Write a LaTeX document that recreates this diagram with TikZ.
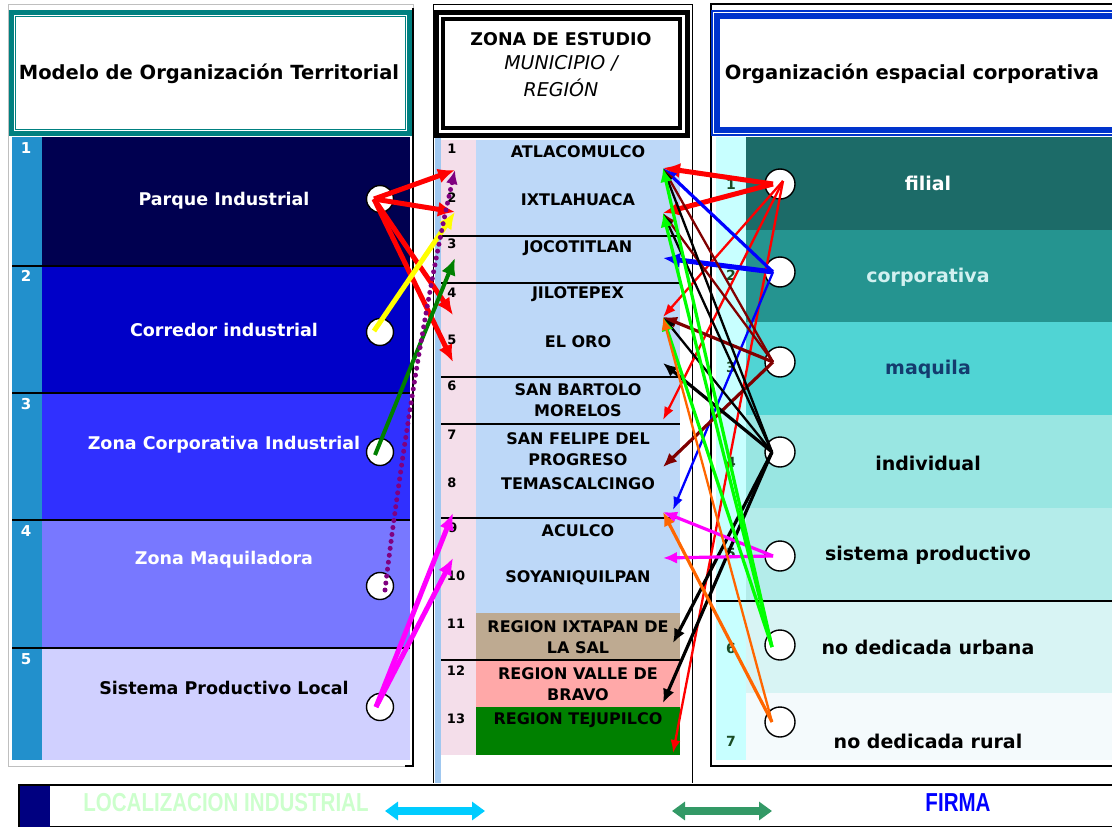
\documentclass[tikz,border=0pt]{standalone}
\usepackage{fontspec}
\setmainfont{DejaVu Sans}
\newfontfamily\narrowfont[FakeStretch=0.79]{Liberation Sans}
\usetikzlibrary{arrows.meta}

\definecolor{headteal}{RGB}{0,128,128}
\definecolor{headblue}{RGB}{0,51,204}
\definecolor{numstrip}{RGB}{34,144,204}
\definecolor{modA}{RGB}{0,0,80}
\definecolor{modB}{RGB}{0,0,200}
\definecolor{modC}{RGB}{48,48,255}
\definecolor{modD}{RGB}{120,120,255}
\definecolor{modE}{RGB}{208,208,255}
\definecolor{munpink}{RGB}{244,222,234}
\definecolor{munblue}{RGB}{189,216,248}
\definecolor{regtan}{RGB}{190,170,145}
\definecolor{regrose}{RGB}{255,168,168}
\definecolor{reggreen}{RGB}{0,128,0}
\definecolor{sidestrip}{RGB}{160,200,240}
\definecolor{orgstrip}{RGB}{200,255,255}
\definecolor{orgA}{RGB}{28,107,104}
\definecolor{orgB}{RGB}{37,148,144}
\definecolor{orgC}{RGB}{80,212,212}
\definecolor{orgD}{RGB}{153,230,226}
\definecolor{orgE}{RGB}{180,236,234}
\definecolor{orgF}{RGB}{216,244,244}
\definecolor{orgG}{RGB}{244,250,252}
\definecolor{orgnum}{RGB}{25,75,35}
\definecolor{corptext}{RGB}{210,240,240}
\definecolor{maqtext}{RGB}{20,60,110}
\definecolor{locgreen}{RGB}{204,255,204}
\definecolor{firmgreen}{RGB}{51,153,102}
\definecolor{firmblue}{RGB}{0,0,255}
\definecolor{arrowcyan}{RGB}{0,204,255}
\definecolor{barnavy}{RGB}{0,0,128}
\definecolor{lred}{RGB}{255,0,0}
\definecolor{lblue}{RGB}{0,0,255}
\definecolor{darkred}{RGB}{128,0,0}
\definecolor{brightgreen}{RGB}{0,255,0}
\definecolor{darkgreen}{RGB}{0,128,0}
\definecolor{lorange}{RGB}{255,102,0}
\definecolor{lmagenta}{RGB}{255,0,255}
\definecolor{lyellow}{RGB}{255,255,0}
\definecolor{lpurple}{RGB}{128,0,128}

\tikzset{
    socket/.style={circle, draw=black, line width=1.4pt, fill=white,
        minimum size=#1, inner sep=0pt},
    socket/.default=27pt,
    link/.style={-{Latex[length=17pt,width=15pt]}, line width=5pt},
    midlink/.style={-{Latex[length=14pt,width=12pt]}, line width=3.2pt},
    thinlink/.style={-{Latex[length=13pt,width=10pt]}, line width=2.3pt},
    modtext/.style={font=\fontsize{17.5}{20}\selectfont\bfseries, text=white},
    muntext/.style={font=\fontsize{16}{21}\selectfont\bfseries, align=center},
    orgtext/.style={font=\fontsize{19}{22}\selectfont\bfseries},
    headtext/.style={font=\fontsize{19.5}{22}\selectfont\bfseries},
    modnum/.style={font=\fontsize{15}{15}\selectfont\bfseries, text=white},
    munnum/.style={font=\fontsize{13}{13}\selectfont\bfseries},
    orgnum/.style={font=\fontsize{14}{14}\selectfont\bfseries, text=orgnum},
    legend/.style={font=\narrowfont\fontsize{26}{26}\selectfont\bfseries},
    legendarrow/.style={{Triangle[length=13pt,width=18pt]}-{Triangle[length=13pt,width=18pt]},
        line width=7.5pt},
}

\begin{document}
\begin{tikzpicture}[x=1pt, y=-1pt]

    \useasboundingbox (0,0) rectangle (1112,827);

    % ---- left column: modelo de organizacion territorial
    \draw [gray!50, line width=1pt] (8,4) rectangle (413,766);
    \draw [black, line width=1.5pt] (413,8) -- (413,766) -- (405,766);
    \draw [headteal, line width=7pt] (12.5,13.5) rectangle (408.5,132.5);
    \draw [white, line width=0.8pt] (14.5,15.5) rectangle (406.5,130.5);
    \node [headtext] (modhead) at (209,74) {Modelo de Organización Territorial};

    \fill [numstrip] (12,137) rectangle (42,760);
    \fill [modA] (42,137) rectangle (410,266);
    \fill [modB] (42,266) rectangle (410,393);
    \fill [modC] (42,393) rectangle (410,520);
    \fill [modD] (42,520) rectangle (410,648);
    \fill [modE] (42,648) rectangle (410,760);
    \foreach \y in {266,393,520,648}
        \draw [line width=2.5pt] (12,\y) -- (410,\y);

    \foreach \n/\y in {1/148,2/276,3/404,4/531,5/659}
        \node [modnum] at (26,\y) {\n};

    \node [modtext] (parque) at (224,201) {Parque Industrial};
    \node [modtext] (corredor) at (224,330) {Corredor industrial};
    \node [modtext] (zonacorp) at (224,445) {Zona Corporativa Industrial};
    \node [modtext] (maquiladora) at (224,560) {Zona Maquiladora};
    \node [modtext, text=black] (splocal) at (224,688) {Sistema Productivo Local};

    \node [socket] (lc1) at (380,199) {};
    \node [socket] (lc2) at (380,332) {};
    \node [socket] (lc3) at (380,452) {};
    \node [socket] (lc4) at (380,586) {};
    \node [socket] (lc5) at (380,707) {};
    \coordinate (lc1-o) at (374,199);
    \coordinate (lc2-o) at (374,331);
    \coordinate (lc3-o) at (375,455);
    \coordinate (lc4-o) at (385,590);
    \coordinate (lc5-o) at (376,707);

    % ---- middle column: zona de estudio
    \fill [sidestrip] (435,10) rectangle (441,783);
    \draw [line width=1pt] (433,4) -- (433,783);
    \draw [line width=1pt] (692,4) -- (692,783);
    \draw [line width=0.8pt] (433,4) -- (692,4);
    \fill [white] (436,12) rectangle (687,135);
    \draw [line width=5pt] (436,12) rectangle (687,135);
    \draw [line width=4pt] (443,19) rectangle (680,128);
    \node [font=\fontsize{17.5}{20}\selectfont\bfseries] (zona) at (561,39) {ZONA DE ESTUDIO};
    \node [font=\fontsize{19}{22}\selectfont\itshape] (munic) at (561,63) {MUNICIPIO /};
    \node [font=\fontsize{19}{22}\selectfont\itshape] (region) at (561,88) {REGIÓN};

    \fill [munpink] (441,140) rectangle (476,755);
    \fill [munblue] (476,140) rectangle (680,613);
    \fill [regtan] (476,613) rectangle (680,660);
    \fill [regrose] (476,660) rectangle (680,707);
    \fill [reggreen] (476,707) rectangle (680,755);
    \foreach \y in {236,283,377,424,518,660}
        \draw [line width=2.5pt] (441,\y) -- (680,\y);

    \foreach \n/\x/\y in {1/452/149,2/452/198,3/452/244,4/452/293,5/452/340,
            6/452/386,7/452/435,8/452/483,9/453/528,10/456/576,11/456/624,
            12/456/671,13/456/719}
        \node [munnum] at (\x,\y) {\n};

    \node [muntext] (atlacomulco) at (578,152) {ATLACOMULCO};
    \node [muntext] (ixtlahuaca) at (578,200) {IXTLAHUACA};
    \node [muntext] (jocotitlan) at (578,248) {JOCOTITLAN};
    \node [muntext] (jilotepex) at (578,294) {JILOTEPEX};
    \node [muntext] (eloro) at (578,342) {EL ORO};
    \node [muntext] (sanbartolo) at (578,400) {SAN BARTOLO\\MORELOS};
    \node [muntext] (sanfelipe) at (578,449) {SAN FELIPE DEL\\PROGRESO};
    \node [muntext] (temascal) at (578,484) {TEMASCALCINGO};
    \node [muntext] (aculco) at (578,531) {ACULCO};
    \node [muntext] (soyaniq) at (578,578) {SOYANIQUILPAN};
    \node [muntext] (ixtapan) at (578,637) {REGION IXTAPAN DE\\LA SAL};
    \node [muntext] (valle) at (578,684) {REGION VALLE DE\\BRAVO};
    \node [muntext] (tejupilco) at (578,720) {REGION TEJUPILCO};

    % arrow ends on the left side of the list
    \coordinate (l1) at (455,170);
    \coordinate (l2) at (455,212);
    \coordinate (l3) at (455,258);
    \coordinate (l4) at (453,315);
    \coordinate (l5) at (453,362);
    \coordinate (l9) at (453,513);
    \coordinate (l10) at (453,558);

    % arrow ends on the right side of the list
    \coordinate (atl) at (663,168);
    \coordinate (ixt) at (663,213);
    \coordinate (joc) at (663,258);
    \coordinate (oro) at (663,317);
    \coordinate (oro-b) at (663,363);
    \coordinate (sbm) at (663,420);
    \coordinate (sfp) at (663,467);
    \coordinate (acu) at (663,512);
    \coordinate (acu-b) at (673,510);
    \coordinate (soy) at (663,558);
    \coordinate (ixp) at (673,643);
    \coordinate (vdb) at (663,703);
    \coordinate (tej) at (673,753);

    % ---- right column: organizacion espacial corporativa
    \fill [orgstrip] (716,137) rectangle (746,760);
    \fill [orgA] (746,137) rectangle (1112,230);
    \fill [orgB] (746,230) rectangle (1112,322);
    \fill [orgC] (746,322) rectangle (1112,415);
    \fill [orgD] (746,415) rectangle (1112,508);
    \fill [orgE] (746,508) rectangle (1112,601);
    \fill [orgF] (746,601) rectangle (1112,693);
    \fill [orgG] (746,693) rectangle (1112,760);
    \draw [line width=2.5pt] (716,601) -- (1112,601);
    \draw [line width=1.5pt] (1116,4) -- (711,4) -- (711,766) -- (1116,766);
    \draw [headblue, line width=9pt] (715.5,14.5) rectangle (1122,131.5);
    \draw [white, line width=0.8pt] (713.5,12.5) rectangle (1122,133.5);
    \node [headtext] (orghead) at (912,74) {Organización espacial corporativa};

    \foreach \n/\y in {1/184,2/275,3/367,4/462,5/553,6/648,7/741}
        \node [orgnum] at (731,\y) {\n};

    \node [orgtext, text=white] (filial) at (928,183) {filial};
    \node [orgtext, text=corptext] (corporativa) at (928,277) {corporativa};
    \node [orgtext, text=maqtext] (maquila) at (928,369) {maquila};
    \node [orgtext] (individual) at (928,463) {individual};
    \node [orgtext] (sistema) at (928,555) {sistema productivo};
    \node [orgtext] (urbana) at (928,647) {no dedicada urbana};
    \node [orgtext] (rural) at (928,741) {no dedicada rural};

    \foreach \i/\y in {1/184,2/272,3/362,4/452,5/556,6/645,7/722}
        \node [socket=30pt] (rc\i) at (780,\y) {};
    \coordinate (rc1-o) at (773,184);
    \coordinate (rc1-s) at (783,181);
    \coordinate (rc2-o) at (773,272);
    \coordinate (rc3-o) at (773,362);
    \coordinate (rc4-o) at (772,452);
    \coordinate (rc5-o) at (773,556);
    \coordinate (rc6-o) at (772,647);
    \coordinate (rc7-o) at (772,722);

    % ---- links from the territorial model
    \draw [link, lred] (lc1-o) -- (l1);
    \draw [link, lred] (lc1-o) -- (l2);
    \draw [link, lred] (lc1-o) -- (l4);
    \draw [link, lred] (lc1-o) -- (l5);
    \draw [link, lyellow] (lc2-o) -- (l2);
    \draw [link, darkgreen, line width=4pt] (lc3-o) -- (l3);
    \draw [-{Latex[length=14pt,width=12pt]}, lpurple, line width=5pt,
        line cap=round, dash pattern=on 0pt off 7pt]
        (lc4-o) .. controls (398,480) and (425,300) .. (l1);
    \draw [link, lmagenta] (lc5-o) -- (l9);
    \draw [link, lmagenta] (lc5-o) -- (l10);

    % ---- links from the corporate organisation
    % filial
    \draw [link, lred] (rc1-o) -- (atl);
    \draw [link, lred] (rc1-o) -- (ixt);
    \draw [thinlink, lred] (rc1-s) -- (oro);
    \draw [thinlink, lred] (rc1-s) -- (sbm);
    \draw [thinlink, lred] (rc1-s) -- (tej);
    % corporativa
    \draw [midlink, lblue] (rc2-o) -- (atl);
    \draw [link, lblue] (rc2-o) -- (joc);
    \draw [thinlink, lblue] (rc2-o) -- (acu-b);
    % maquila
    \draw [thinlink, darkred] (rc3-o) -- (atl);
    \draw [thinlink, darkred] (rc3-o) -- (ixt);
    \draw [midlink, darkred] (rc3-o) -- (oro);
    \draw [midlink, darkred] (rc3-o) -- (sfp);
    % individual
    \draw [thinlink, black] (rc4-o) -- (atl);
    \draw [thinlink, black] (rc4-o) -- (ixt);
    \draw [thinlink, black] (rc4-o) -- (oro);
    \draw [midlink, black] (rc4-o) -- (oro-b);
    \draw [midlink, black] (rc4-o) -- (ixp);
    \draw [midlink, black] (rc4-o) -- (vdb);
    % sistema productivo
    \draw [midlink, lmagenta] (rc5-o) -- (acu);
    \draw [midlink, lmagenta] (rc5-o) -- (soy);
    % no dedicada urbana
    \draw [midlink, brightgreen] (rc6-o) -- (atl);
    \draw [midlink, brightgreen] (rc6-o) -- (ixt);
    \draw [midlink, brightgreen] (rc6-o) -- (oro);
    % no dedicada rural
    \draw [thinlink, lorange] (rc7-o) -- (oro);
    \draw [midlink, lorange] (rc7-o) -- (acu);

    % ---- bottom legend bar
    \draw [line width=2pt] (19,785) rectangle (1120,827);
    \fill [barnavy] (20,786) rectangle (50,827);
    \node [legend, text=locgreen] (loc) at (226,803) {LOCALIZACION INDUSTRIAL};
    \node [legend, text=firmblue] (firma) at (958,803) {FIRMA};
    \coordinate (loc-a) at (385,811);
    \coordinate (loc-b) at (485,811);
    \coordinate (firma-a) at (672,811);
    \coordinate (firma-b) at (772,811);
    \draw [legendarrow, arrowcyan] (loc-a) -- (loc-b);
    \draw [legendarrow, firmgreen] (firma-a) -- (firma-b);

\end{tikzpicture}
\end{document}
